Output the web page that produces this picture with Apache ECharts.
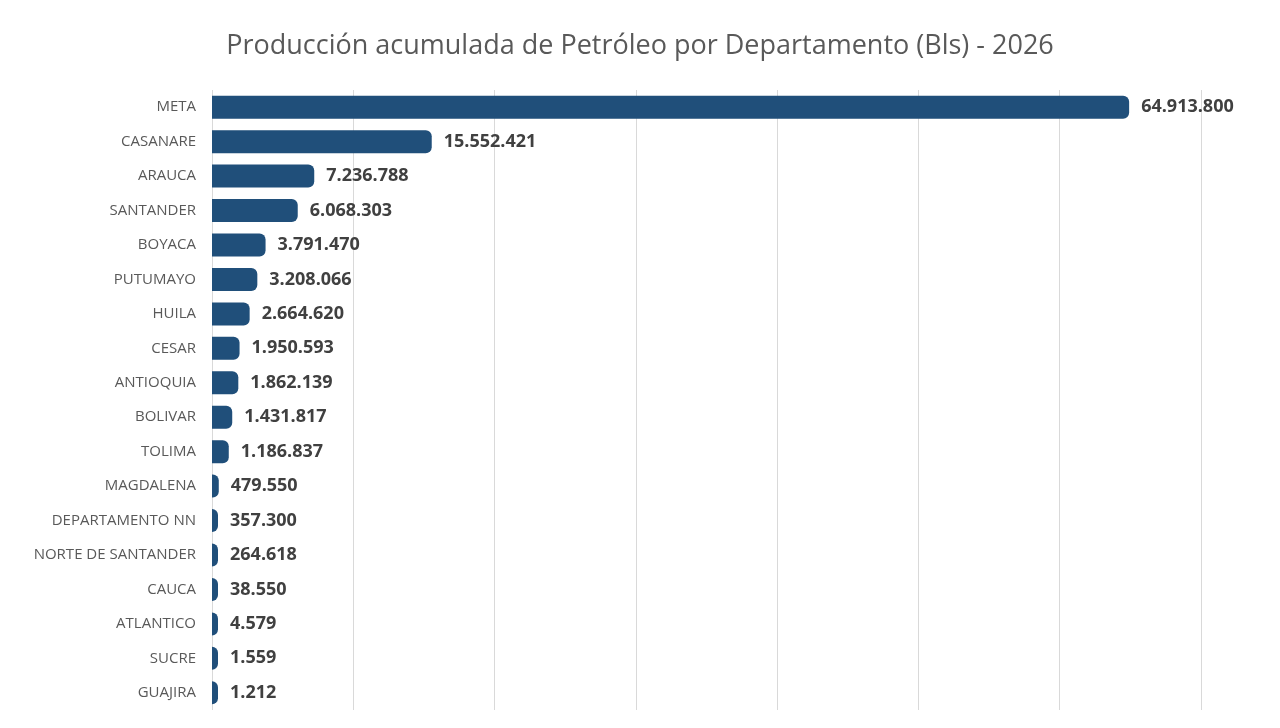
<!DOCTYPE html>
<html>
<head>
<meta charset="utf-8">
<script src="https://cdn.jsdelivr.net/npm/echarts@6/dist/echarts.min.js"></script>
<style>
  html, body { margin: 0; padding: 0; background: #fff; }
  #chart { width: 1280px; height: 728px; }
</style>
</head>
<body>
<div id="chart"></div>
<script>
var departamentos = ['META', 'CASANARE', 'ARAUCA', 'SANTANDER', 'BOYACA', 'PUTUMAYO', 'HUILA', 'CESAR',
  'ANTIOQUIA', 'BOLIVAR', 'TOLIMA', 'MAGDALENA', 'DEPARTAMENTO NN', 'NORTE DE SANTANDER',
  'CAUCA', 'ATLANTICO', 'SUCRE', 'GUAJIRA'];
var produccion = [64913800, 15552421, 7236788, 6068303, 3791470, 3208066, 2664620, 1950593,
  1862139, 1431817, 1186837, 479550, 357300, 264618, 38550, 4579, 1559, 1212];

var miles = function(v) {
  return String(v).replace(/\B(?=(\d{3})+(?!\d))/g, '.');
};

var chart = echarts.init(document.getElementById('chart'));
chart.setOption({
  animation: false,
  title: {
    text: 'Producción acumulada de Petróleo por Departamento (Bls) - 2026',
    left: 'center',
    top: 28,
    textStyle: { fontFamily: 'Open Sans', fontSize: 27, fontWeight: 'normal', color: '#595959' }
  },
  grid: { left: 212, right: 79, top: 90, bottom: 18, containLabel: false },
  xAxis: {
    type: 'value',
    min: 0,
    max: 70000000,
    interval: 10000000,
    axisLabel: { show: false },
    axisLine: { show: false },
    axisTick: { show: false },
    splitLine: { lineStyle: { color: '#d9d9d9', width: 1 } }
  },
  yAxis: {
    type: 'category',
    data: departamentos,
    inverse: true,
    axisLine: { show: false },
    axisTick: { show: false },
    axisLabel: { fontFamily: 'Open Sans', fontSize: 15, color: '#595959', margin: 16 }
  },
  series: [{
    type: 'bar',
    data: produccion,
    barWidth: 23,
    barMinHeight: 6,
    itemStyle: { color: '#204f7a', borderRadius: [0, 6, 6, 0] },
    label: {
      show: true,
      position: 'right',
      distance: 12,
      fontFamily: 'Open Sans',
      fontSize: 18,
      fontWeight: 'bold',
      color: '#404040',
      formatter: function(p) { return miles(p.value); }
    }
  }]
});
</script>
</body>
</html>
